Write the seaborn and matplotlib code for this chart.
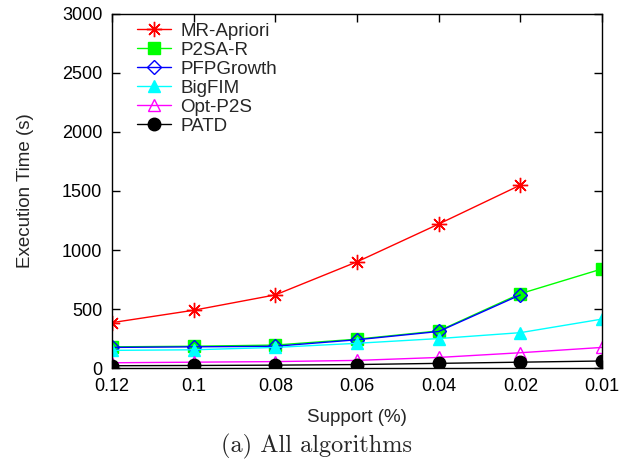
import matplotlib
matplotlib.use("Agg")
import matplotlib.pyplot as plt
import seaborn as sns
import numpy as np
import pandas as pd

supports = ["0.12", "0.1", "0.08", "0.06", "0.04", "0.02", "0.01"]
mr_apriori = [385, 490, 620, 900, 1220, 1550, np.nan]
p2sa_r = [180, 185, 195, 245, 315, 630, 840]
pfpgrowth = [175, 180, 185, 240, 310, 620, np.nan]
bigfim = [150, 155, 175, 210, 250, 300, 415]
opt_p2s = [45, 50, 55, 65, 90, 130, 175]
patd = [20, 22, 25, 30, 40, 50, 60]

sns.set_style("ticks")
plt.rcParams['font.family'] = ['Liberation Sans', 'DejaVu Sans']

fig = plt.figure(figsize=(6.19, 4.63), dpi=100)
ax = fig.add_axes([0.181, 0.205, 0.7915, 0.765])

pos = np.arange(len(supports))
series = [
    ("MR-Apriori", mr_apriori, "#ff0000", (8, 2, 0), True, 11),
    ("P2SA-R", p2sa_r, "#00ff00", "s", True, 8),
    ("PFPGrowth", pfpgrowth, "#0000ff", "D", False, 7),
    ("BigFIM", bigfim, "#00ffff", "^", True, 8),
    ("Opt-P2S", opt_p2s, "#ff00ff", "^", False, 9),
    ("PATD", patd, "#000000", "o", True, 9),
]
for name, vals, col, mk, filled, ms in series:
    df = pd.DataFrame({"x": pos, "y": vals})
    kw = dict(markerfacecolor=col if filled else "none", markeredgecolor=col,
              markeredgewidth=1.0)
    sns.lineplot(data=df, x="x", y="y", ax=ax, color=col, marker=mk,
                 markersize=ms, linewidth=1.0, label=name, **kw)

ax.set_xlim(0, len(supports) - 1)
ax.set_ylim(0, 3000)
ax.set_xticks(pos)
ax.set_xticklabels(supports)
ax.set_yticks([0, 500, 1000, 1500, 2000, 2500, 3000])
ax.tick_params(direction="in", length=6, width=1, top=True, right=True,
               labelsize=13, pad=7, colors="black")
for s in ax.spines.values():
    s.set_linewidth(1.0)
    s.set_color("black")
ax.set_xlabel("Support (%)", fontsize=13.5, labelpad=10)
ax.set_ylabel("Execution Time (s)", fontsize=13.5, labelpad=20)

leg = ax.legend(loc="upper left", frameon=False, fontsize=13.5,
                handlelength=1.8, handletextpad=0.5, labelspacing=0.1,
                bbox_to_anchor=(0.025, 1.012), borderaxespad=0.3)

fig.text(0.511, 0.035, "(a) All algorithms", family="cmr10", fontsize=17.5,
         ha="center", va="center")

fig.savefig("out.png", dpi=100)
